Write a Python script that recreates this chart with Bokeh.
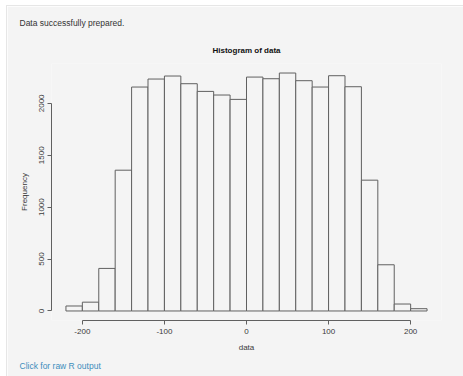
from bokeh.plotting import figure
from bokeh.models import Range1d, FixedTicker, Spacer, Title
from bokeh.layouts import row, column
from bokeh.embed import file_html
from bokeh.resources import INLINE

# Histogram data (bins of width 20 from -220 to 220)
bin_edges = [-220, -200, -180, -160, -140, -120, -100, -80, -60, -40, -20, 0,
             20, 40, 60, 80, 100, 120, 140, 160, 180, 200, 220]
counts = [48, 85, 410, 1356, 2157, 2234, 2263, 2189, 2115, 2080, 2038, 2253,
          2237, 2292, 2218, 2157, 2266, 2160, 1260, 445, 67, 22]
x_ticks = [-200, -100, 0, 100, 200]
y_ticks = [0, 500, 1000, 1500, 2000]

BG = "#f4f4f4"
LINE = "#606060"
FONT = "Liberation Sans"

xspan = bin_edges[-1] - bin_edges[0]
ymax = max(counts)
p = figure(width=457, height=371, output_backend="svg", toolbar_location=None,
           x_range=Range1d(bin_edges[0] - 0.04 * xspan, bin_edges[-1] + 0.04 * xspan),
           y_range=Range1d(-0.04 * ymax, ymax * 1.04),
           min_border_left=44, min_border_right=23, min_border_top=57, min_border_bottom=57)
p.background_fill_color = BG
p.border_fill_color = BG
p.outline_line_color = None
p.grid.visible = False
p.styles = {"border-top": "1px solid #e6e6e6", "border-left": "1px solid #e6e6e6"}

p.quad(left=bin_edges[:-1], right=bin_edges[1:], bottom=0, top=counts,
       fill_color=BG, line_color=LINE, line_width=1)

for ax, ticks in ((p.xaxis[0], x_ticks), (p.yaxis[0], y_ticks)):
    ax.ticker = FixedTicker(ticks=ticks)
    ax.major_label_overrides = {t: str(t) for t in ticks}
    ax.bounds = (ticks[0], ticks[-1])
    ax.axis_line_color = LINE
    ax.major_tick_line_color = LINE
    ax.minor_tick_line_color = None
    ax.major_tick_out = 4
    ax.major_tick_in = 0
    ax.major_label_text_font = FONT
    ax.major_label_text_font_size = "8px"
    ax.major_label_text_color = "#3a3a3a"
    ax.axis_label_text_font = FONT
    ax.axis_label_text_font_size = "8px"
    ax.axis_label_text_font_style = "normal"
    ax.axis_label_text_color = "#3a3a3a"

p.xaxis[0].axis_label = "data"
p.xaxis[0].major_label_standoff = 4
p.xaxis[0].axis_label_standoff = 6
p.yaxis[0].axis_label = "Frequency"
p.yaxis[0].major_label_orientation = "vertical"
p.yaxis[0].major_label_standoff = 3
p.yaxis[0].axis_label_standoff = 8

# outer title: page status text
p.title.text = "Data successfully prepared."
p.title.align = "left"
p.title.offset = -32
p.title.text_font = FONT
p.title.text_font_size = "8.5px"
p.title.text_font_style = "normal"
p.title.text_color = "#333333"
p.title.standoff = 13

# inner title: chart title
p.add_layout(Title(text="Histogram of data", align="center",
                   standoff=18, text_font=FONT, text_font_size="8px",
                   text_font_style="bold", text_color="#111111"), "above")
p.add_layout(Title(text="Click for raw R output", align="left", offset=-32,
                   standoff=9, text_font=FONT, text_font_size="8.5px",
                   text_font_style="normal", text_color="#3c8dbc"), "below")

layout = row(Spacer(width=6, height=371), column(Spacer(width=457, height=5), p))
open("out.html", "w").write(file_html(layout, INLINE))
